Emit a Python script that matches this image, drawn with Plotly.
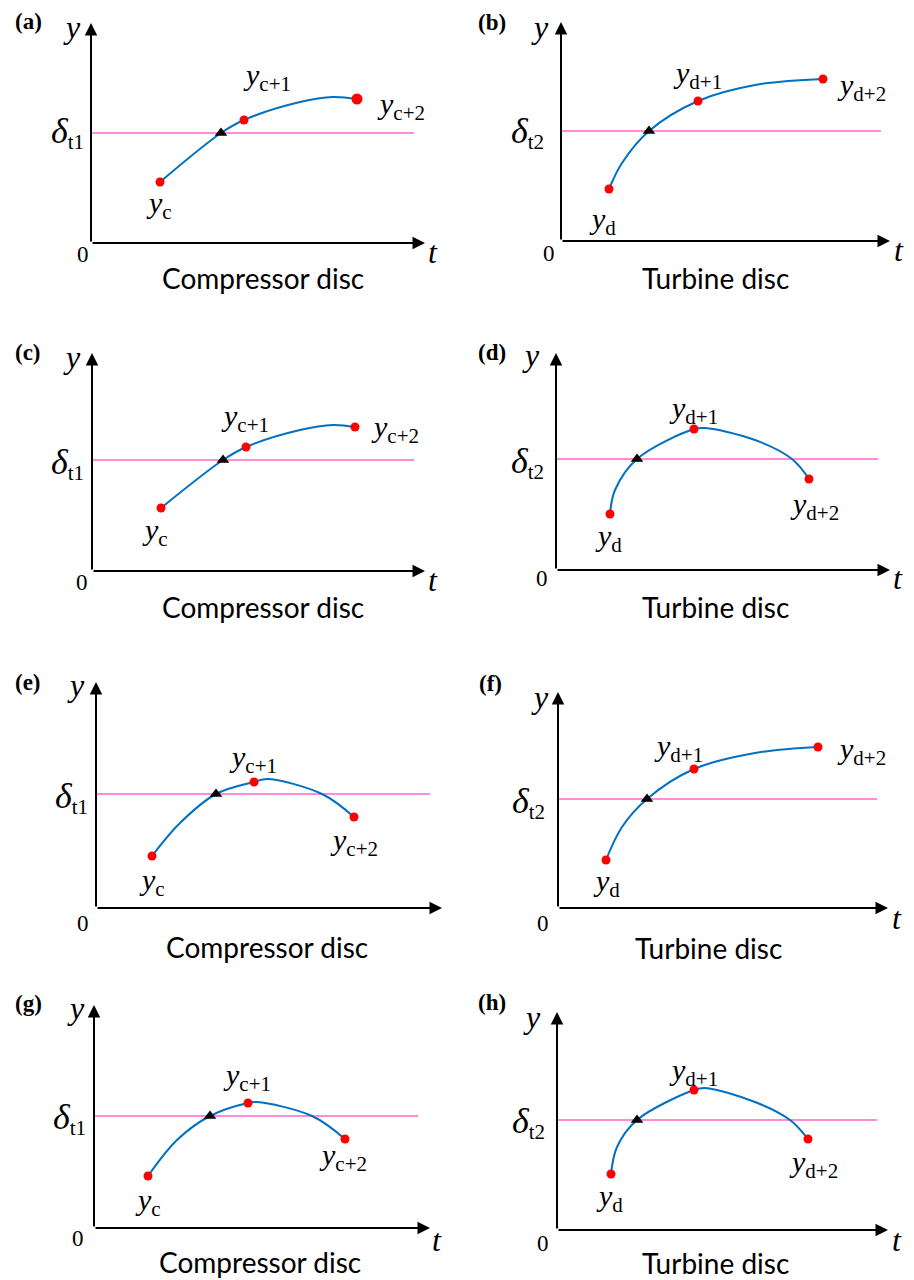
import plotly.graph_objects as go

# ---------------------------------------------------------------- data
PANELS = ["a", "b", "c", "d", "e", "f", "g", "h"]
DISC = ["Compressor disc", "Turbine disc"] * 4
SUBSCRIPT = ["c", "d"] * 4          # y_c ... for compressor, y_d ... for turbine
THRESHOLD_NAME = ["t1", "t2"] * 4

# curve knots (t, y) for each panel; MARKS gives the indices of y_k, y_k+1, y_k+2
A_T = [6.9, 13.0, 15.3, 20.9, 24.2, 26.6]
A_Y = [6.1, 11.0, 12.3, 14.1, 14.6, 14.4]
A_MARKS = [0, 2, 5]
A_DELTA = 11.0

B_T = [4.8, 6.1, 8.8, 13.7, 19.4, 26.2]
B_Y = [5.2, 7.8, 11.0, 14.0, 15.6, 16.2]
B_MARKS = [0, 3, 5]
B_DELTA = 11.0

C_T = [6.9, 13.1, 15.4, 20.8, 24.1, 26.3]
C_Y = [6.3, 11.1, 12.4, 14.1, 14.6, 14.4]
C_MARKS = [0, 2, 5]
C_DELTA = 11.1

D_T = [5.4, 5.9, 8.1, 13.8, 14.9, 19.9, 23.6, 25.3]
D_Y = [5.6, 8.0, 11.1, 14.1, 14.2, 13.0, 11.1, 9.1]
D_MARKS = [0, 3, 7]
D_DELTA = 11.1

E_T = [5.6, 8.4, 12.0, 15.8, 17.1, 22.6, 25.8]
E_Y = [5.2, 8.5, 11.4, 12.6, 12.9, 11.4, 9.1]
E_MARKS = [0, 3, 6]
E_DELTA = 11.4

F_T = [4.8, 6.4, 8.9, 13.6, 19.7, 26.0]
F_Y = [4.8, 8.1, 10.9, 13.9, 15.5, 16.1]
F_MARKS = [0, 3, 5]
F_DELTA = 10.9

G_T = [5.4, 8.3, 11.6, 15.4, 16.3, 21.8, 25.1]
G_Y = [5.2, 8.8, 11.2, 12.5, 12.6, 11.2, 8.9]
G_MARKS = [0, 3, 6]
G_DELTA = 11.2

H_T = [5.4, 6.0, 8.0, 13.7, 14.8, 19.8, 23.3, 25.1]
H_Y = [5.6, 8.3, 11.0, 14.0, 14.2, 12.8, 11.0, 9.1]
H_MARKS = [0, 3, 7]
H_DELTA = 11.0

# t at which each curve first reaches its threshold
CROSS_T = [13.0, 8.8, 13.1, 8.1, 12.0, 8.9, 11.6, 8.0]
# extent of the threshold line along t
THRESHOLD_END = [32.3, 32.0, 32.2, 32.2, 33.4, 31.9, 32.4, 32.0]

CURVES_T = [A_T, B_T, C_T, D_T, E_T, F_T, G_T, H_T]
CURVES_Y = [A_Y, B_Y, C_Y, D_Y, E_Y, F_Y, G_Y, H_Y]
MARKS = [A_MARKS, B_MARKS, C_MARKS, D_MARKS, E_MARKS, F_MARKS, G_MARKS, H_MARKS]
DELTAS = [A_DELTA, B_DELTA, C_DELTA, D_DELTA, E_DELTA, F_DELTA, G_DELTA, H_DELTA]

# ---------------------------------------------------------------- layout
W, H = 914, 1280
PX_PER_UNIT = 10

# origin x, origin y, t-arrow tip x, y-arrow tip y (pixels)
FRAMES = [
    (91, 243, 425, 23),
    (561, 241, 890, 22),
    (92, 571, 425, 353),
    (556, 570, 890, 353),
    (96, 908, 442, 682),
    (558, 908, 888, 692),
    (94, 1228, 430, 1005),
    (557, 1230, 888, 1012),
]

# label offsets (dx, dy in pixels, dy downward) from each marked point
POINT_LABEL_OFFSETS = [
    [(-1, 23), (23, -43), (44, 7)],
    [(-7, 32), (-1, -26), (38, 8)],
    [(-6, 24), (-1, -29), (40, 2)],
    [(-2, 24), (-1, -19), (5, 27)],
    [(0, 26), (-1, -23), (0, 25)],
    [(0, 23), (-16, -21), (43, 4)],
    [(0, 26), (-1, -26), (-2, 18)],
    [(-2, 24), (-1, -18), (5, 25)],
]
TAG_OFFSET = [(-63, -1), (-69, 0), (-64, -1), (-64, -1), (-68, 0), (-68, -9), (-66, -2), (-65, -10)]
YLABEL_OFFSET = [(-19, 4), (-21, 5), (-20, 4), (-25, 2), (-20, 3), (-18, 5), (-18, 3), (-25, 5)]
DELTA_OFFSET = [(-24, 0), (-34, 1), (-25, 3), (-29, 3), (-25, 3), (-30, 3), (-25, 2), (-29, 2)]
ZERO_OFFSET = [(-8, 12), (-12, 12), (-10, 11), (-14, 8), (-13, 15), (-15, 15), (-16, 10), (-14, 13)]
TLABEL_OFFSET = [(8, 9), (9, 9), (8, 9), (8, 8), None, (9, 10), (7, 12), (9, 10)]
CAPTION_OFFSET = [(5, 35), (-10, 37), (4, 36), (-8, 37), (-2, 39), (-15, 40), (-2, 34), (-7, 33)]

PINK = "#FF66CC"
BLUE = "#0070C0"
RED = "#FF0000"
SERIF = "Liberation Serif"
SANS = "Lato"

fig = go.Figure()
annotations = []


def text_at(xref, yref, x, y, txt, dx, dy, size, family=SERIF, color="black"):
    annotations.append(dict(
        xref=xref, yref=yref, x=x, y=y, text=txt, showarrow=False,
        xshift=dx, yshift=-dy, xanchor="center", yanchor="middle",
        font=dict(family=family, size=size, color=color),
    ))


for i, p in enumerate(PANELS):
    suffix = "" if i == 0 else str(i + 1)
    xa, ya = "x" + suffix, "y" + suffix
    x0, y0, xt, yt = FRAMES[i]
    t_len = (xt - x0) / PX_PER_UNIT
    y_len = (y0 - yt) / PX_PER_UNIT

    fig.update_layout(**{
        "xaxis" + suffix: dict(domain=[x0 / W, xt / W], range=[0, t_len],
                               visible=False, anchor=ya, fixedrange=True),
        "yaxis" + suffix: dict(domain=[1 - y0 / H, 1 - yt / H], range=[0, y_len],
                               visible=False, anchor=xa, fixedrange=True),
    })

    t_vals, y_vals, delta = CURVES_T[i], CURVES_Y[i], DELTAS[i]

    # threshold line
    fig.add_trace(go.Scatter(x=[0, THRESHOLD_END[i]], y=[delta, delta], mode="lines",
                             line=dict(color=PINK, width=1.6), xaxis=xa, yaxis=ya,
                             hoverinfo="skip", showlegend=False))
    # response curve
    fig.add_trace(go.Scatter(x=t_vals, y=y_vals, mode="lines",
                             line=dict(color=BLUE, width=2, shape="spline", smoothing=1.0),
                             xaxis=xa, yaxis=ya, hoverinfo="skip", showlegend=False))
    # threshold crossing
    fig.add_trace(go.Scatter(x=[CROSS_T[i]], y=[delta], mode="markers",
                             marker=dict(symbol="triangle-up", size=11, color="black",
                                         line=dict(width=0)),
                             xaxis=xa, yaxis=ya, hoverinfo="skip", showlegend=False))
    # marked samples
    mt = [t_vals[k] for k in MARKS[i]]
    my = [y_vals[k] for k in MARKS[i]]
    sizes = [9, 9, 11] if p == "a" else [9, 9, 9]
    fig.add_trace(go.Scatter(x=mt, y=my, mode="markers",
                             marker=dict(size=sizes, color=RED, opacity=1, line=dict(width=0)),
                             xaxis=xa, yaxis=ya, hoverinfo="skip", showlegend=False))

    # coordinate axes with arrows
    for tip in [(t_len, 0), (0, y_len)]:
        annotations.append(dict(
            xref=xa, yref=ya, axref=xa, ayref=ya, x=tip[0], y=tip[1], ax=0, ay=0,
            text="", showarrow=True, arrowhead=2, arrowsize=1.25, arrowwidth=2,
            arrowcolor="black", standoff=0, startstandoff=0,
        ))

    s = SUBSCRIPT[i]
    names = [f"<i>y</i><sub>{s}</sub>", f"<i>y</i><sub>{s}+1</sub>", f"<i>y</i><sub>{s}+2</sub>"]
    for k in range(3):
        dx, dy = POINT_LABEL_OFFSETS[i][k]
        text_at(xa, ya, mt[k], my[k], names[k], dx, dy, 30)

    dx, dy = TAG_OFFSET[i]
    text_at(xa, ya, 0, y_len, f"<b>({p})</b>", dx, dy, 23)
    dx, dy = YLABEL_OFFSET[i]
    text_at(xa, ya, 0, y_len, "<i>y</i>", dx, dy, 32)
    dx, dy = DELTA_OFFSET[i]
    text_at(xa, ya, 0, delta,
            f"<span style='font-size:36px'><i>δ</i></span><sub>{THRESHOLD_NAME[i]}</sub>",
            dx, dy, 30)
    dx, dy = ZERO_OFFSET[i]
    text_at(xa, ya, 0, 0, "0", dx, dy, 23)
    if TLABEL_OFFSET[i] is not None:
        dx, dy = TLABEL_OFFSET[i]
        text_at(xa, ya, t_len, 0, "<i>t</i>", dx, dy, 32)
    dx, dy = CAPTION_OFFSET[i]
    text_at(xa, ya, t_len / 2, 0, DISC[i], dx, dy, 28, family=SANS)

fig.update_layout(
    width=W, height=H, margin=dict(l=0, r=0, t=0, b=0),
    paper_bgcolor="white", plot_bgcolor="white",
    annotations=annotations, showlegend=False,
)

fig.write_html("out.html", config={"displayModeBar": False})
